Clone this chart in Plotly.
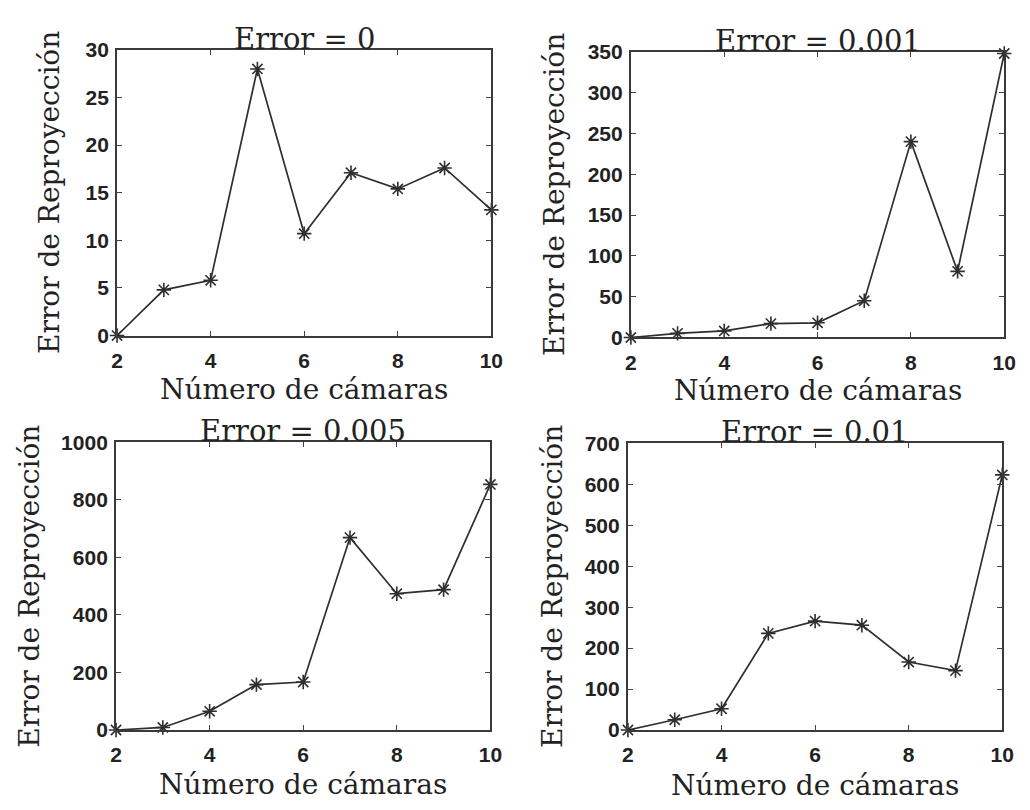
import plotly.graph_objects as go

# Reprojection error vs. number of cameras, for four noise levels
cameras = [2, 3, 4, 5, 6, 7, 8, 9, 10]
err_0 = [0, 4.8, 5.8, 28.0, 10.7, 17.1, 15.4, 17.6, 13.2]
err_0001 = [0, 5, 8, 17, 18, 45, 240, 81, 348]
err_0005 = [0, 9, 65, 158, 167, 669, 474, 488, 854]
err_001 = [0, 25, 52, 236, 266, 256, 166, 145, 623]

titles = ["Error = 0", "Error = 0.001", "Error = 0.005", "Error = 0.01"]
series = [err_0, err_0001, err_0005, err_001]
y_ranges = [[0, 30], [0, 350], [0, 1000], [0, 700]]
y_dticks = [5, 50, 200, 100]
x_ticks = [2, 4, 6, 8, 10]

x_label = "Número de cámaras"
y_label = "Error de Reproyección"

W, H = 1030, 810
# panel boxes in pixels: left, right, top, bottom
boxes = [
    (113, 494, 39, 333),
    (636, 1016, 41, 335),
    (112, 493, 443, 739),
    (633, 1014, 444, 739),
]
# label positions in pixels
xlab_y = [389, 390, 795, 796]
ylab_x = [45, 558, 24, 556]

serif = "DejaVu Serif"
ink = "#222222"

fig = go.Figure()
annotations = []
for i, (vals, title) in enumerate(zip(series, titles)):
    n = "" if i == 0 else str(i + 1)
    l, r, t, b = boxes[i]
    xd = [l / W, r / W]
    yd = [1 - b / H, 1 - t / H]
    fig.add_trace(go.Scatter(
        x=cameras, y=vals, mode="lines+markers",
        xaxis="x" + n, yaxis="y" + n,
        line=dict(color="#2e2e2e", width=1.7),
        marker=dict(symbol="asterisk-open", size=12,
                    line=dict(color="#111111", width=1.6)),
        cliponaxis=False, showlegend=False,
    ))
    common = dict(
        showline=True, linecolor="#3a3a3a", linewidth=2, mirror="allticks",
        ticks="inside", ticklen=5, tickwidth=1, tickcolor="#444444",
        showgrid=False, zeroline=False,
        tickfont=dict(family="Liberation Sans", size=21, color=ink, weight="bold"),
    )
    fig.update_layout(**{
        "xaxis" + n: dict(domain=xd, range=[2, 10], tickvals=x_ticks,
                          anchor="y" + n, ticklabelstandoff=5, **common),
        "yaxis" + n: dict(domain=yd, range=y_ranges[i], dtick=y_dticks[i],
                          tick0=0, anchor="x" + n, ticklabelstandoff=2, **common),
    })
    cx = (l + r) / 2 / W
    annotations.append(dict(
        text=title, x=cx, y=1 - t / H, xref="paper", yref="paper",
        xanchor="center", yanchor="bottom", yshift=-8, showarrow=False,
        font=dict(family=serif, size=29, color=ink),
    ))
    annotations.append(dict(
        text=x_label, x=cx, y=1 - xlab_y[i] / H, xref="paper", yref="paper",
        xanchor="center", yanchor="middle", showarrow=False,
        font=dict(family=serif, size=28, color=ink),
    ))
    annotations.append(dict(
        text=y_label, x=ylab_x[i] / W, y=1 - (t + b) / 2 / H,
        xref="paper", yref="paper", xanchor="center", yanchor="middle",
        textangle=-90, showarrow=False,
        font=dict(family=serif, size=28, color=ink),
    ))

fig.update_layout(
    width=W, height=H,
    margin=dict(l=0, r=0, t=0, b=0),
    paper_bgcolor="white", plot_bgcolor="white",
    annotations=annotations,
)

fig.write_html("out.html")
